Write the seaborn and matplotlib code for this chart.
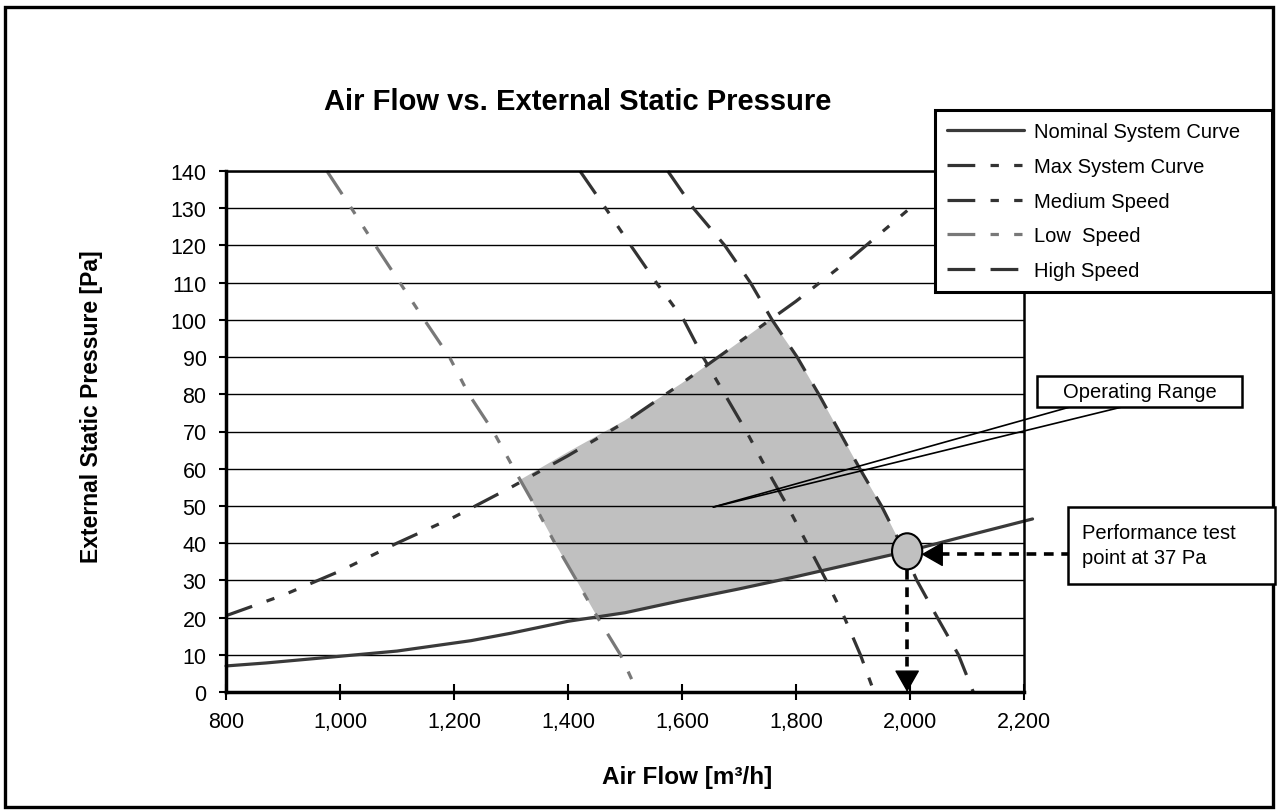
import numpy as np
import pandas as pd
import seaborn as sns
import matplotlib.pyplot as plt
from matplotlib.patches import Rectangle, Ellipse, ConnectionPatch
from matplotlib.ticker import MultipleLocator, StrMethodFormatter

# curve data (air flow m3/h, pressure Pa)
nominal_flow = [800, 870, 1000, 1100, 1230, 1300, 1400, 1500, 1600, 1700, 1800, 1900, 2000, 2100, 2215]
nominal_press = [7, 7.8, 9.6, 11, 13.8, 15.8, 19, 21.3, 24.6, 27.7, 31, 34.5, 38, 42, 46.5]

max_flow = [800, 900, 1000, 1100, 1200, 1300, 1400, 1500, 1600, 1700, 1800, 1900, 2000]
max_press = [20.5, 26, 32.5, 40, 47, 55, 63.5, 72.5, 83, 94, 105, 117, 130]

speed_press = [140, 130, 120, 110, 100, 90, 80, 70, 60, 50, 40, 30, 20, 10, 0]
low_flow = [977, 1020, 1062, 1105, 1148, 1192, 1226, 1269, 1305, 1342, 1377, 1415, 1452, 1492, 1522]
medium_flow = [1421, 1466, 1510, 1555, 1603, 1637, 1675, 1713, 1748, 1785, 1819, 1853, 1885, 1913, 1937]
high_flow = [1575, 1620, 1675, 1720, 1758, 1802, 1840, 1876, 1912, 1950, 1983, 2012, 2048, 2085, 2111]

# operating range polygon (bounded by max, high, nominal and low curves)
op_flow = [1316, 1400, 1500, 1600, 1700, 1756, 1802, 1840, 1876, 1912, 1950, 1983, 1995,
           1900, 1800, 1700, 1600, 1500, 1452, 1415, 1377, 1342, 1316]
op_press = [57, 64.5, 73, 83, 94, 100.2, 90, 80, 70, 60, 50, 40, 38.2,
            34.5, 31, 27.7, 24.6, 21.3, 20, 30, 40, 50, 57]

test_flow = 1995
test_press = 37

curve_order = ['Nominal System Curve', 'Max System Curve', 'Medium Speed', 'Low  Speed', 'High Speed']

frames = [
    pd.DataFrame({'flow': nominal_flow, 'pressure': nominal_press, 'curve': curve_order[0]}),
    pd.DataFrame({'flow': max_flow, 'pressure': max_press, 'curve': curve_order[1]}),
    pd.DataFrame({'flow': medium_flow, 'pressure': speed_press, 'curve': curve_order[2]}),
    pd.DataFrame({'flow': low_flow, 'pressure': speed_press, 'curve': curve_order[3]}),
    pd.DataFrame({'flow': high_flow, 'pressure': speed_press, 'curve': curve_order[4]}),
]
df = pd.concat(frames, ignore_index=True)

palette = {curve_order[0]: '#3a3a3a', curve_order[1]: '#333333', curve_order[2]: '#333333',
           curve_order[3]: '#787878', curve_order[4]: '#333333'}
dash_dot = (20, 11, 6, 11, 6, 11)
dash_map = {curve_order[0]: '', curve_order[1]: dash_dot, curve_order[2]: dash_dot,
            curve_order[3]: dash_dot, curve_order[4]: (20, 11)}

sns.set_style('white')
plt.rcParams['font.family'] = ['Liberation Sans', 'DejaVu Sans']
plt.rcParams['lines.scale_dashes'] = False
plt.rcParams['text.color'] = 'black'

W, H = 1277, 812
fig = plt.figure(figsize=(W / 100, H / 100), dpi=100)
ax = fig.add_axes([226 / W, 1 - 693 / H, (1024 - 226) / W, (693 - 172) / H])

# shaded operating range, under the gridlines
ax.fill(op_flow, op_press, color='#c0c0c0', lw=0, zorder=0.3)

sns.lineplot(data=df, x='flow', y='pressure', hue='curve', style='curve',
             hue_order=curve_order, style_order=curve_order,
             palette=palette, dashes=dash_map, linewidth=2.3,
             errorbar=None, ax=ax)
for line in ax.lines:
    line.set_clip_on(False)

ax.set_xlim(800, 2200)
ax.set_ylim(0, 140)
ax.set_xlabel('')
ax.set_ylabel('')

ax.xaxis.set_major_locator(MultipleLocator(200))
ax.xaxis.set_minor_locator(MultipleLocator(50))
ax.yaxis.set_major_locator(MultipleLocator(10))
ax.xaxis.set_major_formatter(StrMethodFormatter('{x:,.0f}'))
ax.tick_params(axis='x', which='major', direction='inout', length=11, width=1.5,
               labelsize=15.5, pad=8, colors='black')
ax.tick_params(axis='x', which='minor', direction='in', length=4, width=1.5, colors='black')
ax.tick_params(axis='y', which='major', direction='out', length=5, width=1.5,
               labelsize=15.5, pad=9, colors='black', left=True)
ax.tick_params(axis='x', bottom=True)

ax.yaxis.grid(True, color='black', lw=1.0)
ax.set_axisbelow(True)
for side in ['left', 'bottom']:
    ax.spines[side].set_linewidth(2.5)
    ax.spines[side].set_color('black')
for side in ['top', 'right']:
    ax.spines[side].set_linewidth(1.8)
    ax.spines[side].set_color('black')

# performance test point with dashed arrows
ax.add_patch(Ellipse((test_flow, test_press + 0.8), 53, 9.7, facecolor='#c0c0c0',
                     edgecolor='black', lw=1.5, zorder=5))
ax.plot([test_flow, test_flow], [test_press - 4.2, 3.5], color='black', lw=2.6,
        dashes=(7, 5.5), clip_on=False, zorder=6)
ax.plot([2282, 2042], [test_press, test_press], color='black', lw=2.6,
        dashes=(7, 5.5), clip_on=False, zorder=6)
head = dict(arrowstyle='-|>,head_length=0.7,head_width=0.4', lw=1, color='black',
            mutation_scale=20, shrinkA=0, shrinkB=0)
ax.annotate('', xy=(test_flow, 0), xytext=(test_flow, 4.5), arrowprops=head,
            annotation_clip=False, zorder=6)
ax.annotate('', xy=(2020, test_press), xytext=(2048, test_press), arrowprops=head,
            annotation_clip=False, zorder=6)

# legend
handles, labels = ax.get_legend_handles_labels()
leg = ax.legend(handles, labels, loc='upper left',
                bbox_to_anchor=(935 / W, 1 - 112 / H, (1272 - 935) / W, 0.001),
                bbox_transform=fig.transFigure, mode='expand', fontsize=14.5,
                handlelength=3.8, handletextpad=0.5, labelspacing=0.78,
                borderpad=0.6, borderaxespad=0, fancybox=False, framealpha=1)
leg.get_frame().set_edgecolor('black')
leg.get_frame().set_linewidth(2.2)
leg.set_zorder(10)
for t in leg.get_texts():
    t.set_color('black')

# text boxes and callout
fig.add_artist(Rectangle((1068 / W, 1 - 585 / H), (1275 - 1068) / W, (585 - 508) / H,
                         transform=fig.transFigure, facecolor='white', edgecolor='black',
                         lw=1.8, zorder=8))
fig.text(1082 / W, 1 - 546 / H, 'Performance test\npoint at 37 Pa', ha='left', va='center',
         fontsize=14.5, linespacing=1.35, zorder=9)

for px in [1070, 1122]:
    fig.add_artist(ConnectionPatch(xyA=(1655, 49.7), coordsA=ax.transData,
                                   xyB=(px / W, 1 - 408 / H), coordsB=fig.transFigure,
                                   color='black', lw=1.2, zorder=7))
fig.add_artist(Rectangle((1037 / W, 1 - 408 / H), (1242 - 1037) / W, (408 - 377) / H,
                         transform=fig.transFigure, facecolor='white', edgecolor='black',
                         lw=1.8, zorder=8))
fig.text(1140 / W, 1 - 392 / H, 'Operating Range', ha='center', va='center',
         fontsize=14.5, zorder=9)

# titles
fig.text(578 / W, 1 - 102 / H, 'Air Flow vs. External Static Pressure', ha='center',
         va='center', fontsize=21, fontweight='bold')
fig.text(687 / W, 1 - 778 / H, 'Air Flow [m³/h]', ha='center', va='center',
         fontsize=17.5, fontweight='bold')
fig.text(92 / W, 1 - 407 / H, 'External Static Pressure [Pa]', ha='center', va='center',
         rotation=90, fontsize=16.5, fontweight='bold')

# outer chart border
fig.add_artist(Rectangle((5 / W, 4 / H), (1273 - 5) / W, (804 - 4) / H,
                         transform=fig.transFigure, fill=False, edgecolor='black', lw=2.4))

fig.savefig('out.png', dpi=100)
